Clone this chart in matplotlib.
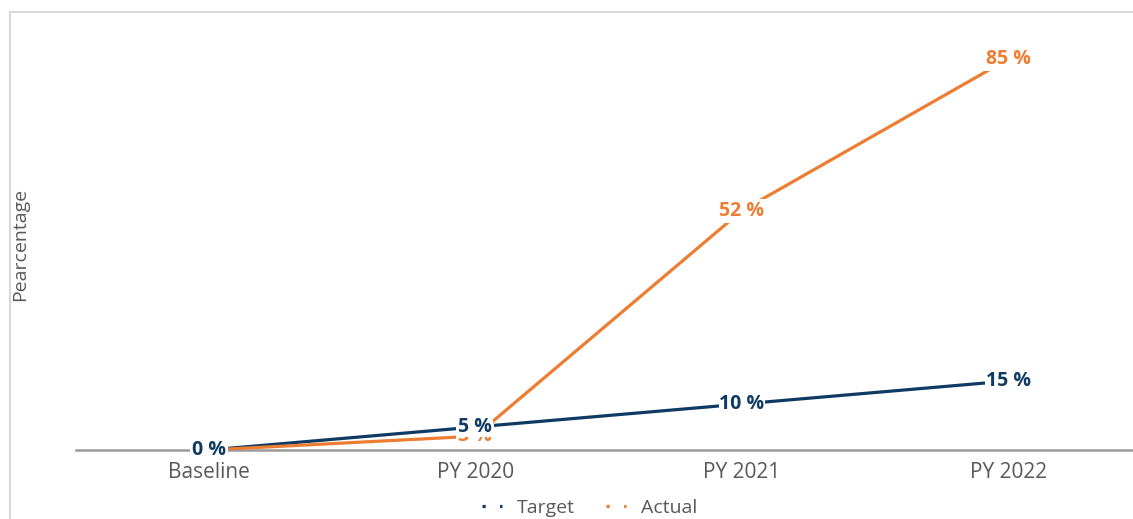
import matplotlib
matplotlib.use("Agg")
import matplotlib.pyplot as plt
from matplotlib.patches import Rectangle
from matplotlib.lines import Line2D

categories = ["Baseline", "PY 2020", "PY 2021", "PY 2022"]
target = [0, 5, 10, 15]
actual = [0, 3, 52, 85]

NAVY = "#0E3A63"
ORANGE = "#ED7D31"
GRAY = "#595959"
FONT = ["Open Sans", "DejaVu Sans"]

W, H = 1133, 519
fig = plt.figure(figsize=(W / 100, H / 100), dpi=100)
fig.patch.set_facecolor("white")

# outer frame (partly cut off at right/bottom)
fig.add_artist(Rectangle((10 / W, -0.2), 2.0, (H - 12) / H + 0.2,
                         transform=fig.transFigure, fill=False,
                         edgecolor="#d9d9d9", lw=1.5, zorder=0))

left = 75.5 / W
width = 1066 / W
bottom = (H - 450) / H
ymax = 90
height = ymax * 4.6 / H
ax = fig.add_axes([left, bottom, width, height])
ax.set_facecolor("none")

x = list(range(len(categories)))
ax.plot(x, target, color=NAVY, lw=2.3, zorder=3, solid_capstyle="butt")
ax.plot(x, actual, color=ORANGE, lw=2.3, zorder=3, solid_capstyle="butt")

ax.set_xlim(-0.5, len(categories) - 0.5)
ax.set_ylim(0, ymax)
for s in ["top", "right", "left"]:
    ax.spines[s].set_visible(False)
ax.spines["bottom"].set_color("#9a9a9a")
ax.spines["bottom"].set_linewidth(1.8)
ax.spines["bottom"].set_zorder(2)
ax.set_yticks([])
ax.set_xticks(x)
ax.set_xticklabels(categories, fontsize=15, color=GRAY, family=FONT)
ax.tick_params(axis="x", length=0, pad=9)

bbox_a = dict(boxstyle="square,pad=0.1", fc="white", ec="none")
bbox_t = dict(boxstyle="square,pad=0.02", fc="white", ec="none")
for xi, v in zip(x, actual):
    ax.text(xi, v, f"{v} %", color=ORANGE, fontsize=14, fontweight="bold",
            family=FONT, ha="center", va="center", bbox=bbox_a, zorder=4,
            clip_on=False)
for xi, v in zip(x, target):
    ax.text(xi, v, f"{v} %", color=NAVY, fontsize=14, fontweight="bold",
            family=FONT, ha="center", va="center", bbox=bbox_t, zorder=5,
            clip_on=False)

fig.text(20 / W, 1 - 244 / H, "Pearcentage", rotation=90, color=GRAY,
         fontsize=14, family=FONT, ha="center", va="center")

handles = [Line2D([], [], color=NAVY, lw=2.3, ls=(0, (1, 4.5))),
           Line2D([], [], color=ORANGE, lw=2.3, ls=(0, (1, 4.5)))]
fig.legend(handles, ["Target", "Actual"], loc="center",
           bbox_to_anchor=(590 / W, 1 - 508 / H), ncol=2, frameon=False,
           prop={"family": FONT, "size": 14}, labelcolor=GRAY,
           handlelength=1.0, handletextpad=0.8, columnspacing=1.6,
           borderpad=0.2)

fig.savefig("out.png", dpi=100, facecolor="white")
